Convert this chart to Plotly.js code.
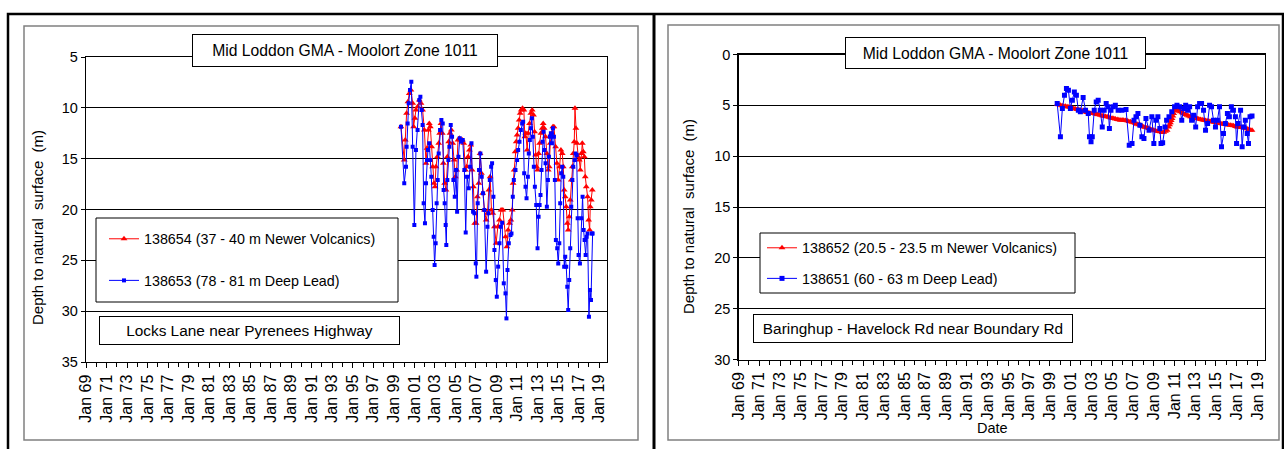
<!DOCTYPE html>
<html>
<head>
<meta charset="utf-8">
<script src="https://cdn.plot.ly/plotly-3.0.1.min.js"></script>
<style>html,body{margin:0;padding:0;background:#fff;}#chart{width:1284px;height:449px;}</style>
</head>
<body>
<div id="chart"></div>
<script>
// ---------- DATA (decimal years, depth to natural surface in m) ----------
const chartTitle = "Mid Loddon GMA - Moolort Zone 1011";
const leftSite = "Locks Lane near Pyrenees Highway";
const rightSite = "Baringhup - Havelock Rd near Boundary Rd";
const leftRedName = "138654 (37 - 40 m Newer Volcanics)";
const leftBlueName = "138653 (78 - 81 m Deep Lead)";
const rightRedName = "138652 (20.5 - 23.5 m Newer Volcanics)";
const rightBlueName = "138651 (60 - 63 m Deep Lead)";
const yTitle = "Depth to natural\u00a0\u00a0surface\u00a0\u00a0(m)";
const xTitleRight = "Date";

const leftRedYears = [1999.70,2000.02,2000.12,2000.25,2000.38,2000.51,2000.67,2000.84,2000.93,2001.06,2001.16,2001.32,2001.49,2001.65,2001.81,2001.98,2002.14,2002.24,2002.37,2002.46,2002.56,2002.69,2002.79,2002.92,2003.02,2003.11,2003.25,2003.38,2003.47,2003.60,2003.73,2003.83,2003.96,2004.09,2004.22,2004.35,2004.48,2004.61,2004.74,2004.87,2005.00,2005.13,2005.26,2005.39,2005.56,2005.69,2005.82,2005.98,2006.11,2006.24,2006.37,2006.50,2006.63,2006.76,2006.89,2007.02,2007.15,2007.28,2007.41,2007.54,2007.67,2007.83,2008.00,2008.13,2008.26,2008.39,2008.52,2008.65,2008.81,2008.97,2009.14,2009.30,2009.46,2009.63,2009.89,2010.02,2010.15,2010.28,2010.41,2010.54,2010.63,2010.73,2010.83,2010.93,2011.02,2011.12,2011.22,2011.32,2011.42,2011.55,2011.68,2011.77,2011.87,2012.00,2012.10,2012.23,2012.36,2012.49,2012.62,2012.72,2012.82,2012.91,2013.01,2013.11,2013.21,2013.34,2013.47,2013.56,2013.66,2013.79,2013.92,2014.05,2014.15,2014.25,2014.38,2014.51,2014.61,2014.77,2014.90,2015.03,2015.16,2015.29,2015.42,2015.52,2015.61,2015.71,2015.81,2015.91,2016.00,2016.10,2016.20,2016.30,2016.40,2016.49,2016.59,2016.66,2016.75,2016.85,2016.98,2017.08,2017.18,2017.27,2017.37,2017.47,2017.57,2017.66,2017.76,2017.89,2017.99,2018.09,2018.15,2018.25,2018.35];
const leftRedDepth = [11.85,15.13,13.17,10.54,9.39,8.58,8.25,9.56,11.85,11.03,10.21,9.89,9.23,9.56,10.21,12.18,15.46,13.98,12.18,11.53,11.85,13.82,15.79,17.43,17.76,15.79,14.80,13.49,12.51,11.53,12.51,15.46,17.43,18.08,14.80,13.33,12.51,12.18,13.49,15.13,16.77,16.12,13.17,13.00,13.17,13.17,13.49,16.12,15.79,14.80,14.15,13.66,16.12,17.76,21.36,21.36,18.74,17.43,14.48,16.44,18.41,20.05,21.03,20.38,18.08,16.77,20.05,20.38,21.69,23.33,21.69,21.03,20.05,20.05,22.67,23.66,22.02,21.36,21.03,20.05,17.43,16.12,14.31,13.33,12.67,12.02,11.20,10.54,10.21,10.05,10.21,12.84,12.51,14.15,12.51,11.53,10.54,10.21,10.71,12.35,14.64,15.79,16.12,14.48,13.49,12.51,12.02,11.53,12.02,12.84,14.48,16.12,15.79,13.49,12.51,11.85,11.85,13.82,15.46,17.10,15.79,14.15,14.48,15.79,18.08,18.74,19.72,21.36,22.02,20.71,19.07,17.10,15.79,14.48,13.33,10.05,12.02,13.49,14.80,15.13,16.12,14.48,13.49,14.31,14.80,16.77,17.76,18.74,21.03,22.02,19.72,19.07,18.08];

const leftBlueYears = [1999.70,2000.02,2000.19,2000.25,2000.35,2000.45,2000.58,2000.71,2000.84,2001.00,2001.16,2001.32,2001.49,2001.59,2001.72,2001.81,2001.91,2002.04,2002.14,2002.24,2002.33,2002.46,2002.56,2002.66,2002.79,2002.89,2002.98,2003.08,2003.18,2003.28,2003.38,2003.51,2003.64,2003.77,2003.86,2003.96,2004.06,2004.12,2004.22,2004.32,2004.42,2004.55,2004.68,2004.81,2004.94,2005.07,2005.17,2005.30,2005.43,2005.56,2005.72,2005.88,2006.01,2006.14,2006.30,2006.44,2006.57,2006.73,2006.86,2006.99,2007.05,2007.18,2007.31,2007.44,2007.57,2007.70,2007.83,2008.00,2008.13,2008.23,2008.36,2008.49,2008.58,2008.71,2008.81,2008.94,2009.04,2009.17,2009.30,2009.43,2009.56,2009.72,2009.89,2009.98,2010.08,2010.21,2010.37,2010.47,2010.60,2010.70,2010.86,2011.02,2011.12,2011.25,2011.38,2011.51,2011.61,2011.71,2011.84,2011.94,2012.07,2012.16,2012.26,2012.36,2012.46,2012.55,2012.65,2012.75,2012.88,2013.01,2013.11,2013.21,2013.30,2013.40,2013.50,2013.60,2013.69,2013.79,2013.92,2014.02,2014.12,2014.21,2014.31,2014.41,2014.51,2014.61,2014.70,2014.80,2014.93,2015.03,2015.13,2015.22,2015.32,2015.42,2015.52,2015.61,2015.71,2015.81,2015.91,2016.00,2016.10,2016.20,2016.30,2016.40,2016.49,2016.62,2016.72,2016.82,2016.92,2017.01,2017.14,2017.27,2017.40,2017.50,2017.60,2017.70,2017.80,2017.89,2018.02,2018.12,2018.22,2018.32,2018.38];
const leftBlueDepth = [11.85,17.43,15.79,13.82,11.53,9.56,8.25,7.43,13.82,21.53,14.15,12.18,9.23,8.90,10.21,11.69,19.39,21.36,17.43,15.13,14.15,13.49,15.13,16.77,20.05,22.67,25.46,23.33,19.39,17.10,14.48,12.18,11.20,11.53,18.08,19.39,21.53,23.49,17.10,15.13,13.82,11.69,12.84,17.10,18.74,16.12,20.21,14.80,13.00,13.33,13.17,16.12,22.25,16.77,17.92,15.79,13.49,20.21,20.38,25.30,26.61,19.39,16.12,14.48,16.77,18.41,20.05,26.12,21.69,20.38,17.10,15.79,15.46,18.74,23.98,26.94,28.58,25.62,23.33,21.69,21.30,27.26,28.25,30.71,25.95,23.33,22.51,22.35,18.74,17.10,16.12,15.13,14.15,13.33,12.18,11.53,11.36,16.44,17.76,18.90,16.77,14.48,13.17,12.02,11.03,12.84,15.79,17.76,19.56,23.82,20.71,19.56,18.57,16.12,13.33,12.35,14.15,15.46,19.72,17.10,14.80,12.84,12.51,13.49,12.02,12.84,17.10,23.00,23.82,25.30,23.33,19.39,16.44,15.79,16.77,25.62,24.64,25.62,27.59,29.89,26.94,23.82,19.72,17.10,15.79,15.13,14.48,14.64,20.87,24.48,25.30,20.87,18.74,22.02,23.00,24.48,22.67,22.35,30.54,27.92,28.90,22.35,22.35];

const rightRedYears = [1999.71,1999.87,2000.03,2000.19,2000.35,2000.51,2000.67,2000.83,2000.99,2001.15,2001.31,2001.47,2001.64,2001.80,2001.96,2002.11,2002.27,2002.44,2002.60,2002.76,2002.92,2003.08,2003.24,2003.40,2003.56,2003.72,2003.88,2004.04,2004.20,2004.36,2004.52,2004.68,2004.84,2005.00,2005.16,2005.32,2005.49,2005.65,2005.80,2005.96,2006.12,2006.28,2006.45,2006.61,2006.77,2006.93,2007.09,2007.25,2007.41,2007.57,2007.73,2007.89,2008.05,2008.21,2008.37,2008.53,2008.69,2008.85,2009.01,2009.17,2009.34,2009.50,2009.65,2009.81,2009.97,2010.14,2010.30,2010.45,2010.54,2010.62,2010.70,2010.78,2010.86,2010.94,2011.02,2011.10,2011.18,2011.26,2011.34,2011.42,2011.50,2011.58,2011.74,2011.90,2012.06,2012.22,2012.38,2012.54,2012.70,2012.86,2013.03,2013.19,2013.35,2013.51,2013.67,2013.82,2013.99,2014.15,2014.31,2014.47,2014.63,2014.79,2014.95,2015.11,2015.27,2015.43,2015.59,2015.75,2015.91,2016.07,2016.23,2016.39,2016.55,2016.71,2016.88,2017.04,2017.20,2017.36,2017.52,2017.67,2017.84,2018.00,2018.16,2018.32,2018.48];
const rightRedDepth = [4.89,4.95,4.99,5.05,5.08,5.10,5.15,5.17,5.21,5.28,5.31,5.36,5.41,5.44,5.48,5.52,5.58,5.66,5.71,5.74,5.80,5.78,5.80,5.86,5.90,5.93,5.97,6.02,6.07,6.10,6.13,6.18,6.23,6.27,6.30,6.35,6.39,6.42,6.46,6.44,6.46,6.49,6.52,6.58,6.62,6.67,6.72,6.79,6.85,6.90,6.95,7.04,7.12,7.16,7.21,7.28,7.35,7.40,7.44,7.49,7.54,7.58,7.61,7.66,7.64,7.55,7.44,7.12,6.90,6.72,6.50,6.30,6.05,5.80,5.55,5.31,5.15,5.08,5.25,5.41,5.55,5.64,5.72,5.80,5.90,5.97,6.05,6.13,6.18,6.23,6.27,6.30,6.35,6.39,6.42,6.46,6.49,6.52,6.55,6.59,6.62,6.66,6.69,6.72,6.75,6.79,6.82,6.85,6.89,6.92,6.94,6.95,6.98,7.02,7.07,7.12,7.13,7.15,7.18,7.21,7.26,7.31,7.38,7.44,7.44];

const rightBlueYears = [1999.71,2000.02,2000.21,2000.41,2000.60,2000.79,2000.98,2001.17,2001.36,2001.56,2001.75,2001.94,2002.21,2002.44,2002.70,2002.82,2002.97,2003.09,2003.28,2003.47,2003.66,2003.86,2004.05,2004.24,2004.43,2004.62,2004.74,2004.89,2005.12,2005.31,2005.58,2005.96,2006.34,2006.65,2006.92,2007.11,2007.30,2007.49,2007.68,2007.87,2008.07,2008.26,2008.56,2008.83,2009.02,2009.21,2009.41,2009.60,2009.71,2009.87,2010.10,2010.25,2010.48,2010.75,2011.02,2011.25,2011.51,2011.71,2011.90,2012.09,2012.28,2012.47,2012.66,2012.85,2013.05,2013.24,2013.43,2013.62,2013.81,2014.00,2014.20,2014.39,2014.58,2014.77,2014.96,2015.15,2015.35,2015.54,2015.73,2015.92,2016.11,2016.30,2016.49,2016.69,2016.88,2016.99,2017.14,2017.38,2017.53,2017.68,2017.84,2018.02,2018.14,2018.29,2018.48];
const rightBlueDepth = [4.82,8.10,5.31,4.00,3.35,3.51,5.31,4.49,3.68,4.00,5.48,5.64,4.23,5.48,5.81,8.10,8.59,8.10,5.48,4.66,4.49,5.48,7.12,5.48,4.82,5.15,7.28,5.48,5.15,4.99,5.48,5.48,5.41,8.92,8.76,6.46,6.13,5.81,6.95,8.10,8.26,6.30,7.44,6.13,8.76,6.46,6.13,7.28,8.76,8.69,7.12,6.46,6.13,5.64,5.15,4.99,5.15,6.46,5.31,4.99,5.48,5.15,6.46,5.97,7.12,5.15,4.82,4.82,5.48,7.44,6.79,4.99,5.15,6.46,7.12,6.46,5.15,9.08,7.77,6.79,5.81,6.13,5.15,5.48,6.13,8.76,6.79,5.48,9.08,7.12,6.46,7.77,8.76,6.13,6.06];

const xTickFormat = "%b %y";
const leftYRange = [35, 5];
const rightYRange = [30, 0];

// ---------- helpers ----------
function toDate(y) {
  const yr = Math.floor(y);
  const a = Date.UTC(yr, 0, 1), b = Date.UTC(yr + 1, 0, 1);
  return new Date(a + (y - yr) * (b - a)).toISOString().slice(0, 10);
}
const W = 1284, H = 449;
const px = x => x / W;
const py = y => 1 - y / H;
const FONT = "Arial, 'Liberation Sans', sans-serif";

const red = "#FF0000", blue = "#0000FF";

const traces = [
  {x: leftRedYears.map(toDate), y: leftRedDepth, name: leftRedName, xaxis: "x", yaxis: "y",
   mode: "lines+markers", line: {color: red, width: 1}, marker: {symbol: "triangle-up", size: 6, color: red},
   legend: "legend", legendgroup: "a"},
  {x: leftBlueYears.map(toDate), y: leftBlueDepth, name: leftBlueName, xaxis: "x", yaxis: "y",
   mode: "lines+markers", line: {color: blue, width: 1}, marker: {symbol: "square", size: 4, color: blue},
   legend: "legend", legendgroup: "b"},
  {x: rightRedYears.map(toDate), y: rightRedDepth, name: rightRedName, xaxis: "x2", yaxis: "y2",
   mode: "lines+markers", line: {color: red, width: 1}, marker: {symbol: "triangle-up", size: 6, color: red},
   legend: "legend2", legendgroup: "c"},
  {x: rightBlueYears.map(toDate), y: rightBlueDepth, name: rightBlueName, xaxis: "x2", yaxis: "y2",
   mode: "lines+markers", line: {color: blue, width: 1}, marker: {symbol: "square", size: 5, color: blue},
   legend: "legend2", legendgroup: "d"}
];

function xAxis(domain, anchor) {
  return {
    domain: domain, anchor: anchor, type: "date",
    range: ["1969-01-01", "2019-09-25"],
    tick0: "1969-01-01", dtick: "M24", tickformat: xTickFormat, tickangle: -90,
    ticks: "outside", ticklen: 5, tickcolor: "#000", tickwidth: 1,
    minor: {dtick: "M12", tick0: "1969-01-01", ticks: "outside", ticklen: 4, tickcolor: "#000", showgrid: false},
    showgrid: false, showline: true, linecolor: "#000", linewidth: 1.3, mirror: true,
    tickfont: {family: FONT, size: 16, color: "#000"}, zeroline: false, fixedrange: true
  };
}
function yAxis(domain, anchor, range) {
  return {
    domain: domain, anchor: anchor, range: range, dtick: 5, tick0: 0,
    ticks: "outside", ticklen: 4, tickcolor: "#000",
    showgrid: true, gridcolor: "#000", gridwidth: 1,
    showline: true, linecolor: "#000", linewidth: 1.3, mirror: true, zeroline: false,
    tickfont: {family: FONT, size: 14.5, color: "#000"}, fixedrange: true
  };
}

function boxNote(text, cx, cy, w, h, size) {
  return {xref: "paper", yref: "paper", x: px(cx), y: py(cy), xanchor: "center", yanchor: "middle",
    text: text, showarrow: false, width: w, height: h, bgcolor: "#fff",
    bordercolor: "#000", borderwidth: 1, borderpad: 0,
    font: {family: FONT, size: size, color: "#000"}};
}

const layout = {
  width: W, height: H, margin: {l: 0, r: 0, t: 0, b: 0},
  paper_bgcolor: "#fff", plot_bgcolor: "#fff", showlegend: true,
  xaxis: xAxis([px(86), px(606.5)], "y"),
  yaxis: yAxis([py(362), py(57)], "x", leftYRange),
  xaxis2: xAxis([px(738.5), px(1265)], "y2"),
  yaxis2: yAxis([py(359.5), py(54.5)], "x2", rightYRange),
  legend: {x: px(104), y: py(223), xanchor: "left", yanchor: "top", bgcolor: "rgba(0,0,0,0)",
    borderwidth: 0, font: {family: FONT, size: 14.3, color: "#000"}, traceorder: "grouped",
    tracegroupgap: 20, itemwidth: 30},
  legend2: {x: px(762), y: py(232), xanchor: "left", yanchor: "top", bgcolor: "rgba(0,0,0,0)",
    borderwidth: 0, font: {family: FONT, size: 14.3, color: "#000"}, traceorder: "grouped",
    tracegroupgap: 9, itemwidth: 30},
  shapes: [
    {type: "rect", xref: "paper", yref: "paper", x0: px(8), x1: px(1283), y0: py(460), y1: py(14), line: {color: "#000", width: 2.5}},
    {type: "line", xref: "paper", yref: "paper", x0: px(654), x1: px(654), y0: py(14), y1: py(460), line: {color: "#000", width: 3}},
    {type: "rect", xref: "paper", yref: "paper", x0: px(24), x1: px(638), y0: py(440), y1: py(26), line: {color: "#808080", width: 1.5}},
    {type: "rect", xref: "paper", yref: "paper", x0: px(668), x1: px(1279), y0: py(440), y1: py(25), line: {color: "#808080", width: 1.5}},
    {type: "rect", xref: "paper", yref: "paper", x0: px(96), x1: px(398), y0: py(302), y1: py(218), fillcolor: "#fff", line: {color: "#000", width: 1}, layer: "above"},
    {type: "rect", xref: "paper", yref: "paper", x0: px(760), x1: px(1075), y0: py(293), y1: py(233), fillcolor: "#fff", line: {color: "#000", width: 1}, layer: "above"}
  ],
  annotations: [
    boxNote(chartTitle, 345, 50.5, 304, 31, 15.7),
    boxNote(chartTitle, 995.5, 52.5, 299, 30, 15.7),
    boxNote(leftSite, 249, 330.5, 299, 27, 15.4),
    boxNote(rightSite, 913, 328.3, 318, 27, 15.4),
    {xref: "paper", yref: "paper", x: px(37), y: py(228), xanchor: "center", yanchor: "middle", textangle: -90,
     text: yTitle, showarrow: false, font: {family: FONT, size: 15, color: "#000"}},
    {xref: "paper", yref: "paper", x: px(688), y: py(216), xanchor: "center", yanchor: "middle", textangle: -90,
     text: yTitle, showarrow: false, font: {family: FONT, size: 15, color: "#000"}},
    {xref: "paper", yref: "paper", x: px(992), y: py(428), xanchor: "center", yanchor: "middle",
     text: xTitleRight, showarrow: false, font: {family: FONT, size: 14.5, color: "#000"}}
  ]
};

Plotly.newPlot("chart", traces, layout, {staticPlot: true, displayModeBar: false});
</script>
</body>
</html>
